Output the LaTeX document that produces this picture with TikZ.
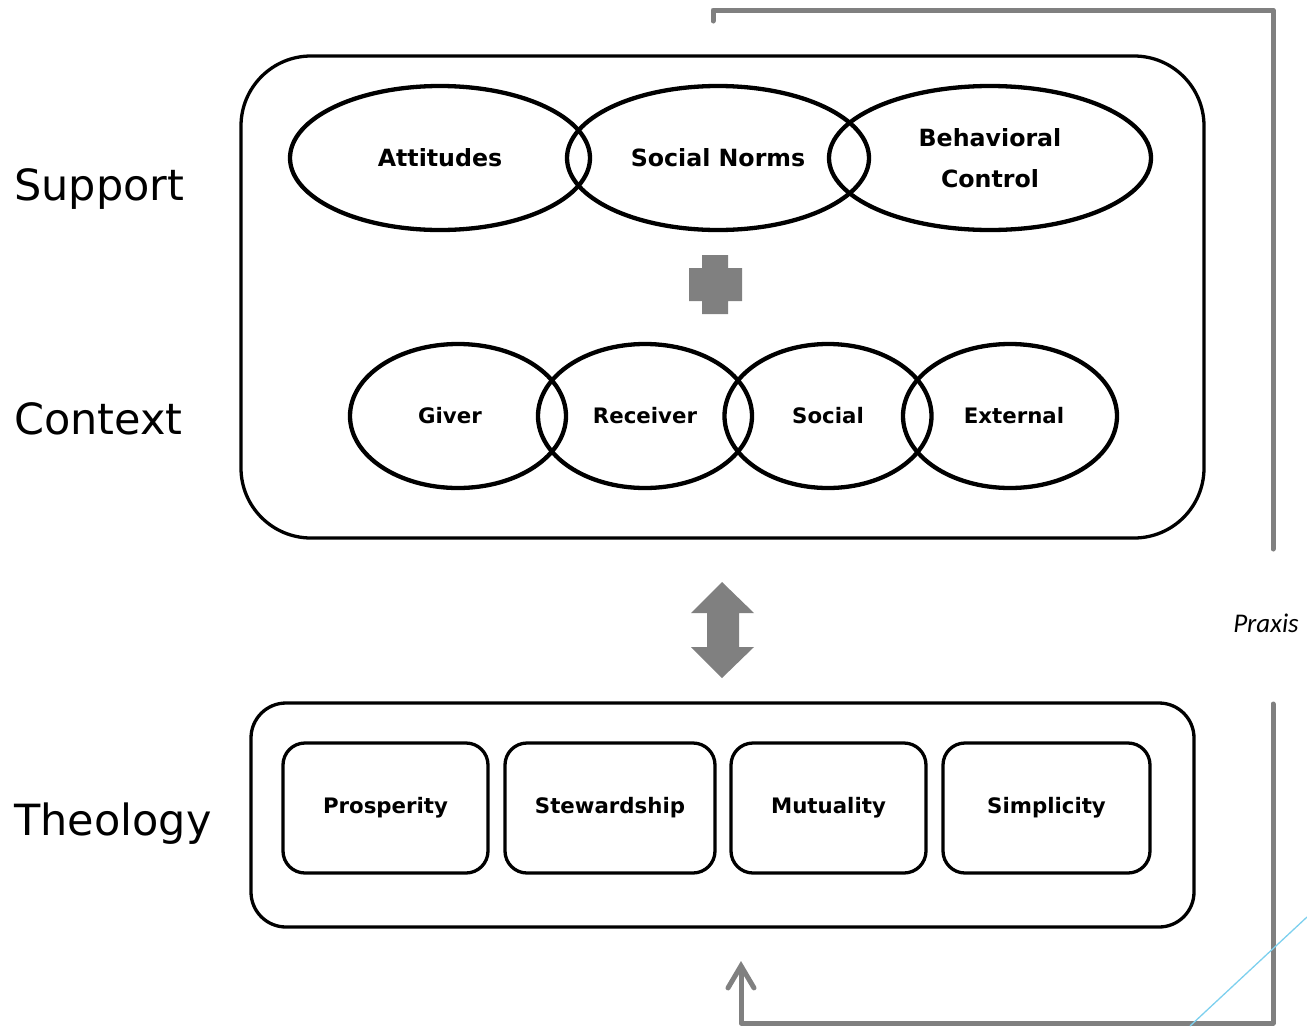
\documentclass[tikz,border=0pt]{standalone}
\usepackage{fontspec}
\setmainfont{DejaVu Sans}
\newfontfamily\praxisfont{Carlito}
\usetikzlibrary{shapes.geometric,arrows.meta}
\definecolor{lgray}{RGB}{128,128,128}
\definecolor{skyc}{RGB}{125,208,238}
\begin{document}
\begin{tikzpicture}[x=1pt,y=-1pt,
  ell/.style={draw, ellipse, line width=4.3pt, inner sep=0pt, align=center},
  topfont/.style={font=\bfseries\fontsize{23.7pt}{41pt}\selectfont},
  midfont/.style={font=\bfseries\fontsize{21.3pt}{26pt}\selectfont},
  bigbox/.style={draw, line width=3.3pt, inner sep=0pt},
  theo/.style={draw, line width=3.3pt, rounded corners=22pt, inner sep=0pt, minimum height=130pt, font=\bfseries\fontsize{21.3pt}{26pt}\selectfont},
  grouplabel/.style={anchor=west, inner sep=0pt, font=\fontsize{43pt}{50pt}\selectfont},
  praxisline/.style={draw=lgray, line width=5pt, line cap=round, line join=round}
]
\useasboundingbox (0,0) rectangle (1307,1026);

% outer boxes
\node[bigbox, rounded corners=70pt, minimum width=963pt, minimum height=482pt] (ctxbox) at (722.5,297) {};
\node[bigbox, rounded corners=35pt, minimum width=943pt, minimum height=224pt] (theobox) at (722.5,815) {};

% top row ellipses
\node[ell, topfont, minimum width=300pt, minimum height=144pt] (att) at (440,158) {Attitudes};
\node[ell, topfont, minimum width=302pt, minimum height=144pt] (norms) at (718,158) {Social Norms};
\node[ell, topfont, minimum width=322pt, minimum height=144pt] (beh) at (990,158) {Behavioral\\Control};

% second row ellipses
\node[ell, midfont, minimum width=216pt, minimum height=144pt] (giver) at (458,416) {};
\node[midfont, inner sep=0pt] (givertxt) at (450,416) {Giver};
\node[ell, midfont, minimum width=214pt, minimum height=144pt] (recv) at (645,416) {Receiver};
\node[ell, midfont, minimum width=207pt, minimum height=144pt] (soc) at (828,416) {Social};
\node[ell, midfont, minimum width=214pt, minimum height=144pt] (ext) at (1010,416) {};
\node[midfont, inner sep=0pt] (exttxt) at (1014,416) {External};

% plus sign
\fill[lgray] (702,255) -- (728,255) -- (728,268) -- (742,268) -- (742,301) -- (728,301)
  -- (728,314) -- (702,314) -- (702,301) -- (689,301) -- (689,268) -- (702,268) -- cycle;

% double arrow
\fill[lgray] (722,582) -- (754,613) -- (739,613) -- (739,647) -- (754,647) -- (722,678)
  -- (691,647) -- (707,647) -- (707,613) -- (691,613) -- cycle;

% theology boxes
\node[theo, minimum width=205pt] (pros) at (385.5,808) {Prosperity};
\node[theo, minimum width=210pt] (stew) at (610,808) {Stewardship};
\node[theo, minimum width=195pt] (mutu) at (828.5,808) {Mutuality};
\node[theo, minimum width=207pt] (simp) at (1046.5,808) {Simplicity};

% group labels
\node[grouplabel] (lsupport) at (14,189) {Support};
\node[grouplabel] (lcontext) at (14,419) {Context};
\node[grouplabel] (ltheology) at (14,824) {Theology};

% praxis loop
\coordinate (ptop) at (713,21);
\coordinate (pend1) at (1273,549);
\coordinate (pstart2) at (1273,704);
\coordinate (parrow) at (741,961);
\draw[praxisline] (ptop) -- (713,10) -- (1273,10) -- (pend1);
\draw[praxisline, -{Straight Barb[length=22pt,width=26pt,line cap=round]}]
  (pstart2) -- (1273,1023) -- (741,1023) -- (parrow);
\node[font=\praxisfont\itshape\fontsize{27pt}{30pt}\selectfont, inner sep=0pt] (praxis) at (1266,623) {Praxis};

% cyan thin line
\draw[skyc, line width=1.3pt] (1190,1026) -- (1307,917);
\end{tikzpicture}
\end{document}
